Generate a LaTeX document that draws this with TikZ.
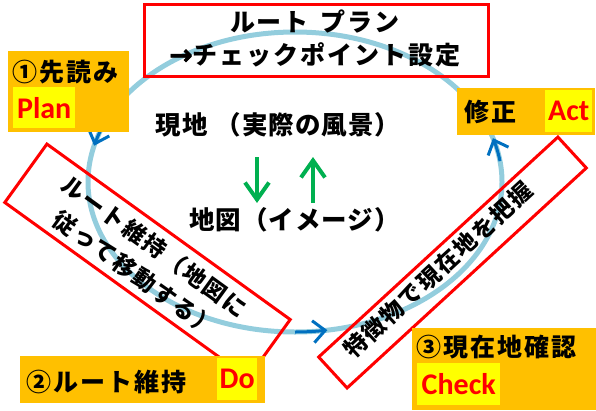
\documentclass[tikz,border=0pt]{standalone}
\usepackage{fontspec}
\newfontfamily\jp{Noto Sans CJK JP}[LetterSpace=4]
\newfontfamily\jpw{Noto Sans CJK JP}[LetterSpace=8]
\newfontfamily\jpr{Noto Sans CJK JP}[LetterSpace=8]
\newfontfamily\lat{Carlito}
\newfontfamily\arr{DejaVu Sans Bold}[FakeBold=2]
\usetikzlibrary{arrows.meta}
\definecolor{orng}{HTML}{FFC000}
\definecolor{cyclc}{HTML}{93CDDD}
\definecolor{bluA}{HTML}{0070C0}
\definecolor{grn}{HTML}{00B050}
\definecolor{rd}{HTML}{FF0000}
\definecolor{yel}{HTML}{FFFF00}
\begin{document}
\begin{tikzpicture}[x=1pt,y=-1pt,
 redbox/.style={draw=rd, line width=3pt, inner sep=0pt},
 orbox/.style={fill=orng, inner sep=0pt, anchor=north west},
 hl/.style={fill=yel, text=rd, inner sep=0pt, anchor=north west, font=\lat\bfseries\fontsize{30}{30}\selectfont},
 jtext/.style={font=\jpw\bfseries\fontsize{25}{33}\selectfont, inner sep=0pt},
 rtext/.style={font=\jpr\bfseries\fontsize{23}{33}\selectfont, inner sep=0pt},
 ctext/.style={font=\jp\bfseries\fontsize{25.5}{25.5}\selectfont, inner sep=0pt},
 cycline/.style={draw=cyclc, line width=5pt},
 barrow/.style={bluA, line width=3pt, -{Straight Barb[length=12pt,width=22pt]}},
 garrow/.style={grn, line width=4pt, -{Straight Barb[length=17pt,width=24pt]}}
]
\useasboundingbox (0,0) rectangle (596,410);
% cycle
\draw[cycline] (295,182) ellipse [x radius=207pt, y radius=150pt];
\draw[barrow] plot[domain=158:166,samples=8,smooth] ({295+207*cos(\x)},{182-150*sin(\x)});
\draw[barrow] plot[domain=270:279,samples=8,smooth] ({295+207*cos(\x)},{182-150*sin(\x)});
\draw[barrow] plot[domain=8:17,samples=8,smooth] ({295+207*cos(\x)},{182-150*sin(\x)});
% top box
\node[redbox, anchor=north west, minimum width=344pt, minimum height=72pt] (topbox) at (143,3) {};
\node[jtext, align=center] (toptext) at (315,38.5) {ルート\hspace{12pt}プラン\\{\arr\fontsize{28}{28}\selectfont →}チェックポイント設定};
% rotated boxes
\node[redbox, rotate=-35.8, minimum width=300pt, minimum height=72pt] (lbox) at (147.5,261) {};
\node[rtext, rotate=-35.8, align=center] (ltext) at (145,260) {ルート維持（地図に\\従って移動する）};
\node[redbox, rotate=42.6, minimum width=325pt, minimum height=42pt] (rbox) at (452.5,262.5) {};
\node[rtext, rotate=42.6] (rtext) at (438,270) {特徴物で現在地を把握};
% center
\node[ctext] (genchi) at (278,125) {現地\hspace{8pt}（実際の風景）};
\node[ctext] (chizu) at (294.5,220) {地図（イメージ）};
\coordinate (gdA) at (257,157);
\coordinate (gdB) at (257,203);
\coordinate (guA) at (313,203);
\coordinate (guB) at (313,157);
\draw[garrow] (gdA) -- (gdB);
\draw[garrow] (guA) -- (guB);
% orange boxes
\node[orbox, minimum width=121pt, minimum height=81pt] (planbox) at (8,51) {};
\node[jtext, anchor=west] (plantxt) at (12,72) {①先読み};
\node[hl, minimum width=62pt, minimum height=41pt] (plan) at (13,87) {Plan};
\node[orbox, minimum width=138pt, minimum height=47pt] (actbox) at (457,88) {};
\node[jtext, anchor=west] (acttxt) at (464,112) {修正};
\node[hl, minimum width=47pt, minimum height=42pt] (act) at (545,90) {Act};
\node[orbox, minimum width=245pt, minimum height=47pt] (dobox) at (20,356) {};
\node[jtext, anchor=west] (dotxt) at (26,382) {②ルート維持};
\node[hl, minimum width=40pt, minimum height=42pt] (do) at (217,358) {Do};
\node[orbox, minimum width=184pt, minimum height=82pt] (checkbox) at (412,328) {};
\node[jtext, anchor=west] (checktxt) at (416,347) {③現在地確認};
\node[hl, minimum width=83pt, minimum height=42pt] (check) at (417,363) {Check};
\end{tikzpicture}
\end{document}
